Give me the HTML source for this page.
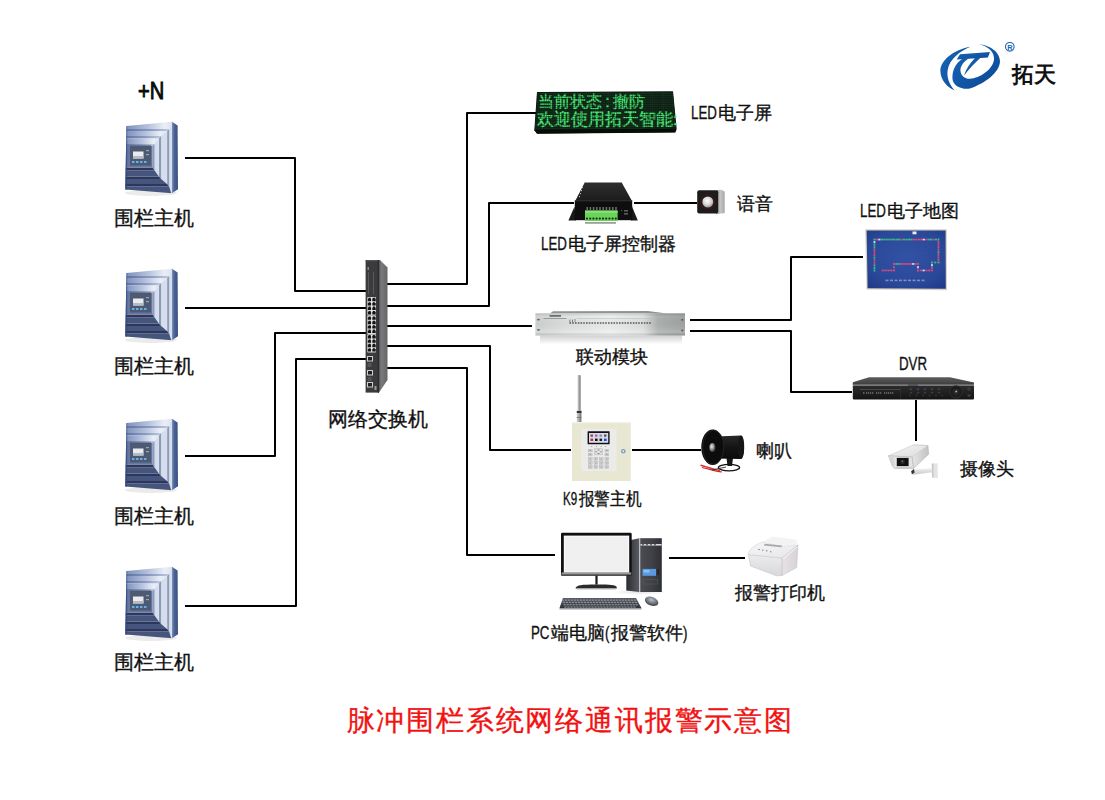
<!DOCTYPE html>
<html><head><meta charset="utf-8">
<style>
html,body{margin:0;padding:0;background:#fff;}
body{width:1105px;height:800px;position:relative;overflow:hidden;font-family:"Liberation Sans",sans-serif;color:#111;}
.t{position:absolute;white-space:nowrap;line-height:1;-webkit-text-stroke:0.35px currentColor;}
.cn{font-size:17.5px;}
.n{display:inline-block;}
.n i{font-style:normal;display:inline-block;transform:scaleX(.76);transform-origin:0 0;}
.big{font-size:20px;}
svg{position:absolute;overflow:visible;}
</style></head><body>

<!-- connection lines -->
<svg style="left:0;top:0" width="1105" height="800" viewBox="0 0 1105 800">
<g fill="none" stroke="#000" stroke-width="2" stroke-linejoin="round">
<polyline points="185,158 295,158 295,291 366,291"/>
<polyline points="185,308 366,308"/>
<polyline points="185,456 275,456 275,333 366,333"/>
<polyline points="185,606 296,606 296,359 366,359"/>
<polyline points="387,284 467,284 467,113 536,113"/>
<polyline points="387,306 489,306 489,203 574,203"/>
<polyline points="387,326 532,326"/>
<polyline points="387,346 490,346 490,450 571,450"/>
<polyline points="387,368 467,368 467,555 555,555"/>
<polyline points="634,203 697,203"/>
<polyline points="690,320 791,320 791,257 863,257"/>
<polyline points="690,331 791,331 791,392 852,392"/>
<polyline points="916,400 916,441"/>
<polyline points="632,450 701,450"/>
<polyline points="669,558 745,558"/>
</g>
</svg>

<svg width="0" height="0" style="position:absolute">
<defs>
<linearGradient id="gT0" x1="0" y1="0" x2="1" y2="0"><stop offset="0" stop-color="#7488b8"/><stop offset="0.5" stop-color="#b3c0dc"/><stop offset="0.85" stop-color="#eaeef6"/><stop offset="1" stop-color="#dce3ef"/></linearGradient>
<linearGradient id="gT1" x1="0" y1="0" x2="1" y2="0"><stop offset="0" stop-color="#586c9c"/><stop offset="0.6" stop-color="#8b9bc3"/><stop offset="1" stop-color="#c0cae0"/></linearGradient>
<linearGradient id="gSide" x1="0" y1="0" x2="1" y2="0"><stop offset="0" stop-color="#8094c0"/><stop offset="0.35" stop-color="#4d6496"/><stop offset="1" stop-color="#3a4f80"/></linearGradient>
<clipPath id="hostFront"><polygon points="2.5,6 48,1.8 48,73.2 1.2,69.4"/></clipPath>
<symbol id="host" viewBox="0 0 56 76" width="56" height="76">
<ellipse cx="27" cy="73" rx="26" ry="3" fill="#000" opacity="0.08"/>
<polygon points="48,1.8 53.6,5.6 54,69.3 48,73.2" fill="url(#gSide)"/>
<g clip-path="url(#hostFront)">
<polygon points="-1,-1 48,-1 45.2,9 -1,9" fill="url(#gT0)"/>
<polygon points="48,-1 48,76 45.2,66.5 45.2,9" fill="#d6deec"/>
<polygon points="-1,76 48,76 45.2,66.5 -1,66.5" fill="#45557d"/>
<polygon points="-1,9 45.2,9 43.1,11 -1,11" fill="url(#gT1)"/>
<polygon points="45.2,9 45.2,66.5 43.1,64 43.1,11" fill="#8a9bc0"/>
<polygon points="-1,66.5 45.2,66.5 43.1,64 -1,64" fill="#2b375c"/>
<polygon points="-1,11 43.1,11 37.1,16 -1,16" fill="url(#gT0)"/>
<polygon points="43.1,11 43.1,64 37.1,59 37.1,16" fill="#d6deec"/>
<polygon points="-1,64 43.1,64 37.1,59 -1,59" fill="#45557d"/>
<polygon points="-1,16 37.1,16 34.9,18.6 -1,18.6" fill="url(#gT1)"/>
<polygon points="37.1,16 37.1,59 34.9,56.5 34.9,18.6" fill="#8a9bc0"/>
<polygon points="-1,59 37.1,59 34.9,56.5 -1,56.5" fill="#2b375c"/>
<polygon points="-1,18.6 34.9,18.6 30.6,24 -1,24" fill="url(#gT0)"/>
<polygon points="34.9,18.6 34.9,56.5 30.6,50.5 30.6,24" fill="#d6deec"/>
<polygon points="-1,56.5 34.9,56.5 30.6,50.5 -1,50.5" fill="#45557d"/>
<polygon points="-1,24 30.6,24 28.4,26 -1,26" fill="url(#gT1)"/>
<polygon points="30.6,24 30.6,50.5 28.4,47.5 28.4,26" fill="#8a9bc0"/>
<polygon points="-1,50.5 30.6,50.5 28.4,47.5 -1,47.5" fill="#2b375c"/>
<rect x="-1" y="26" width="29.4" height="21.5" fill="#6676a0"/>
<rect x="0" y="0" width="3.2" height="76" fill="#34487e" opacity="0.75"/>
</g>
<rect x="6" y="25.5" width="21" height="20" fill="#4d5a72"/>
<rect x="9" y="31.5" width="10.5" height="7" fill="#e9ecef"/>
<rect x="9" y="36" width="10.5" height="2.5" fill="#b5bcc6"/>
<rect x="8" y="41" width="2.5" height="2" fill="#5fb2f0"/><rect x="12" y="41" width="2.5" height="2" fill="#5fb2f0"/><rect x="16" y="41" width="2.5" height="2" fill="#5fb2f0"/><rect x="20" y="41" width="2.5" height="2" fill="#5fb2f0"/>
<rect x="22" y="30" width="3" height="1.2" fill="#9aa3b4"/><rect x="22" y="34" width="3" height="1.2" fill="#9aa3b4"/>
</symbol>
</defs></svg>
<svg style="left:124px;top:120px" width="56" height="76"><use href="#host"/></svg>
<svg style="left:124px;top:267px" width="56" height="76"><use href="#host"/></svg>
<svg style="left:124px;top:417px" width="56" height="76"><use href="#host"/></svg>
<svg style="left:124px;top:565px" width="56" height="76"><use href="#host"/></svg>

<svg style="left:365px;top:255px" width="24" height="140" viewBox="365 255 24 140">
<defs><linearGradient id="swSide" x1="0" y1="0" x2="1" y2="0"><stop offset="0" stop-color="#4a4a4c"/><stop offset="0.3" stop-color="#7a7a7c"/><stop offset="1" stop-color="#666668"/></linearGradient></defs>
<polygon points="378.5,260 380,260 387.5,267.5 387.5,380 379,392.5 378.5,392.5" fill="url(#swSide)"/>
<rect x="365.6" y="260" width="13.4" height="132.6" fill="#3b3b3d"/>
<rect x="365.6" y="260" width="13.4" height="1.2" fill="#555"/>
<rect x="377.6" y="260" width="1.4" height="132.6" fill="#2c2c2e"/>
<g fill="#5a5a5c"><rect x="368" y="272" width="1" height="22"/><rect x="373" y="272" width="1" height="22"/><rect x="367.5" y="267" width="1.5" height="3" fill="#888"/></g>
<g><rect x="367.2" y="297" width="8.8" height="18.4" rx="0.8" fill="#d8d8d8"/><path d="M367.8,298.6 h0.8 v-0.8 h2 v0.8 h0.8 v2.6 h-3.6 z" fill="#141414"/><path d="M372.1,298.6 h0.8 v-0.8 h2 v0.8 h0.8 v2.6 h-3.6 z" fill="#141414"/><path d="M367.8,303.0 h0.8 v-0.8 h2 v0.8 h0.8 v2.6 h-3.6 z" fill="#141414"/><path d="M372.1,303.0 h0.8 v-0.8 h2 v0.8 h0.8 v2.6 h-3.6 z" fill="#141414"/><path d="M367.8,307.4 h0.8 v-0.8 h2 v0.8 h0.8 v2.6 h-3.6 z" fill="#141414"/><path d="M372.1,307.4 h0.8 v-0.8 h2 v0.8 h0.8 v2.6 h-3.6 z" fill="#141414"/><path d="M367.8,311.8 h0.8 v-0.8 h2 v0.8 h0.8 v2.6 h-3.6 z" fill="#141414"/><path d="M372.1,311.8 h0.8 v-0.8 h2 v0.8 h0.8 v2.6 h-3.6 z" fill="#141414"/><rect x="371.3" y="297.5" width="0.9" height="17.4" fill="#f4f4f4"/><rect x="367.2" y="315.6" width="8.8" height="18.4" rx="0.8" fill="#d8d8d8"/><path d="M367.8,317.2 h0.8 v-0.8 h2 v0.8 h0.8 v2.6 h-3.6 z" fill="#141414"/><path d="M372.1,317.2 h0.8 v-0.8 h2 v0.8 h0.8 v2.6 h-3.6 z" fill="#141414"/><path d="M367.8,321.6 h0.8 v-0.8 h2 v0.8 h0.8 v2.6 h-3.6 z" fill="#141414"/><path d="M372.1,321.6 h0.8 v-0.8 h2 v0.8 h0.8 v2.6 h-3.6 z" fill="#141414"/><path d="M367.8,326.0 h0.8 v-0.8 h2 v0.8 h0.8 v2.6 h-3.6 z" fill="#141414"/><path d="M372.1,326.0 h0.8 v-0.8 h2 v0.8 h0.8 v2.6 h-3.6 z" fill="#141414"/><path d="M367.8,330.4 h0.8 v-0.8 h2 v0.8 h0.8 v2.6 h-3.6 z" fill="#141414"/><path d="M372.1,330.4 h0.8 v-0.8 h2 v0.8 h0.8 v2.6 h-3.6 z" fill="#141414"/><rect x="371.3" y="316.1" width="0.9" height="17.4" fill="#f4f4f4"/><rect x="367.2" y="334.2" width="8.8" height="18.4" rx="0.8" fill="#d8d8d8"/><path d="M367.8,335.8 h0.8 v-0.8 h2 v0.8 h0.8 v2.6 h-3.6 z" fill="#141414"/><path d="M372.1,335.8 h0.8 v-0.8 h2 v0.8 h0.8 v2.6 h-3.6 z" fill="#141414"/><path d="M367.8,340.2 h0.8 v-0.8 h2 v0.8 h0.8 v2.6 h-3.6 z" fill="#141414"/><path d="M372.1,340.2 h0.8 v-0.8 h2 v0.8 h0.8 v2.6 h-3.6 z" fill="#141414"/><path d="M367.8,344.6 h0.8 v-0.8 h2 v0.8 h0.8 v2.6 h-3.6 z" fill="#141414"/><path d="M372.1,344.6 h0.8 v-0.8 h2 v0.8 h0.8 v2.6 h-3.6 z" fill="#141414"/><path d="M367.8,349.0 h0.8 v-0.8 h2 v0.8 h0.8 v2.6 h-3.6 z" fill="#141414"/><path d="M372.1,349.0 h0.8 v-0.8 h2 v0.8 h0.8 v2.6 h-3.6 z" fill="#141414"/><rect x="371.3" y="334.7" width="0.9" height="17.4" fill="#f4f4f4"/><rect x="367" y="356" width="6" height="5.5" fill="#cfcfcf"/><rect x="368" y="357" width="4" height="3.5" fill="#222"/><rect x="367" y="370" width="6" height="5.5" fill="#cfcfcf"/><rect x="368" y="371" width="4" height="3.5" fill="#222"/><rect x="367" y="382" width="6" height="5.5" fill="#cfcfcf"/><rect x="368" y="383" width="4" height="3.5" fill="#222"/><rect x="367.5" y="363" width="4" height="4" fill="#555"/><rect x="367.5" y="377" width="4" height="4" fill="#555"/></g>
<rect x="374.5" y="386" width="2" height="4" fill="#999"/>
</svg>
<svg style="left:530px;top:88px" width="150" height="50" viewBox="530 88 150 50">
<defs>
<linearGradient id="ledFace" x1="0" y1="0" x2="0" y2="1"><stop offset="0" stop-color="#0f2416"/><stop offset="1" stop-color="#0b1c11"/></linearGradient>
<pattern id="ledDots" x="0" y="0" width="2.2" height="2.2" patternUnits="userSpaceOnUse"><rect width="2.2" height="2.2" fill="#0d2013"/><circle cx="1.1" cy="1.1" r="0.75" fill="#1d3a26"/></pattern>
</defs>
<polygon points="537,92 673,91.3 676.7,129 675.3,132.5 537,133.8 534.3,130.3" fill="#0a140d"/>
<polygon points="537.4,92.6 672.8,91.9 676,128.8 534.8,129.8" fill="url(#ledDots)"/>
<polygon points="534.8,129.8 676,128.8 675.2,132.3 537,133.4" fill="#060c08"/>
</svg>
<div class="t" style="left:538px;top:94.2px;font-size:16px;color:#48ec78;font-weight:400;">当前状态<span style="display:inline-block;width:11px;text-align:center">:</span>撤防</div>
<div class="t" style="left:537px;top:112px;font-size:16.6px;color:#48ec78;font-weight:400;">欢迎使用拓天智能<span style="display:inline-block;width:4px;text-align:center">:</span></div>
<div style="position:absolute;left:535px;top:92px;width:141px;height:38px;clip-path:polygon(2px 0,138px 0,141px 37px,0 38px);background:repeating-linear-gradient(90deg,rgba(10,25,15,0.3) 0 0.8px,transparent 0.8px 2.2px),repeating-linear-gradient(0deg,rgba(10,25,15,0.3) 0 0.8px,transparent 0.8px 2.2px);"></div>

<svg style="left:565px;top:178px" width="75" height="50" viewBox="565 178 75 50">
<defs><linearGradient id="ctlTop" x1="0" y1="0" x2="0" y2="1"><stop offset="0" stop-color="#2e2e2e"/><stop offset="1" stop-color="#1c1c1c"/></linearGradient></defs>
<polygon points="574.5,206.5 568.4,220.4 576,220.4" fill="#1a1a1a"/>
<polygon points="632,206.5 637.8,220.4 631,220.4" fill="#1a1a1a"/>
<polygon points="584.7,182.6 621.7,182.6 632,201 575.2,201" fill="url(#ctlTop)"/>
<rect x="574.8" y="200.6" width="57.4" height="19.6" fill="#0e0e0e"/>
<rect x="574.8" y="200.4" width="57.4" height="0.9" fill="#3a3a3a"/>
<rect x="585" y="222" width="31" height="1.8" fill="#9aa39a"/>
<rect x="585" y="210.6" width="32.6" height="10.4" fill="#6ad45a"/>
<rect x="585" y="210.6" width="32.6" height="2" fill="#8be47a"/>
<circle cx="587.0" cy="218.6" r="1.1" fill="#0d2a0d"/><circle cx="590.2" cy="218.6" r="1.1" fill="#0d2a0d"/><circle cx="593.4" cy="218.6" r="1.1" fill="#0d2a0d"/><circle cx="596.6" cy="218.6" r="1.1" fill="#0d2a0d"/><circle cx="599.8" cy="218.6" r="1.1" fill="#0d2a0d"/><circle cx="603.0" cy="218.6" r="1.1" fill="#0d2a0d"/><circle cx="606.2" cy="218.6" r="1.1" fill="#0d2a0d"/><circle cx="609.4" cy="218.6" r="1.1" fill="#0d2a0d"/><circle cx="612.6" cy="218.6" r="1.1" fill="#0d2a0d"/><circle cx="615.8" cy="218.6" r="1.1" fill="#0d2a0d"/><rect x="586.5" y="207" width="1.4" height="3" fill="#777"/><rect x="589.7" y="207" width="1.4" height="3" fill="#777"/><rect x="592.9" y="207" width="1.4" height="3" fill="#777"/><rect x="596.1" y="207" width="1.4" height="3" fill="#777"/><rect x="599.3" y="207" width="1.4" height="3" fill="#777"/><rect x="602.5" y="207" width="1.4" height="3" fill="#777"/><rect x="605.7" y="207" width="1.4" height="3" fill="#777"/><rect x="608.9" y="207" width="1.4" height="3" fill="#777"/><rect x="612.1" y="207" width="1.4" height="3" fill="#777"/><rect x="615.3" y="207" width="1.4" height="3" fill="#777"/>
<rect x="621" y="210" width="1" height="1" fill="#3c8a3c"/>
<rect x="624" y="210.5" width="4" height="0.8" fill="#aaa"/><rect x="624" y="213.5" width="4" height="0.8" fill="#aaa"/>
<g fill="#bbb"><rect x="582" y="187" width="1" height="1.2"/><rect x="581" y="190" width="1" height="1.2"/><rect x="580" y="193" width="1" height="1.2"/><rect x="579" y="196" width="1" height="1.2"/></g>
</svg>
<svg style="left:694px;top:186px" width="34" height="32" viewBox="694 186 34 32">
<defs><radialGradient id="spk" cx="0.45" cy="0.4" r="0.6"><stop offset="0" stop-color="#ffffff"/><stop offset="0.6" stop-color="#d6d6d6"/><stop offset="1" stop-color="#9a9a9a"/></radialGradient>
<linearGradient id="spkSide" x1="0" y1="0" x2="1" y2="0"><stop offset="0" stop-color="#8c8c8c"/><stop offset="0.5" stop-color="#c4c4c4"/><stop offset="1" stop-color="#a8a8a8"/></linearGradient></defs>
<polygon points="716,190.2 721,189.8 724.7,191.5 724.7,213 716,214.3" fill="url(#spkSide)"/>
<rect x="697.2" y="190.2" width="21" height="23.4" rx="2" fill="#1c1c1c"/>
<circle cx="707.6" cy="201.8" r="7.6" fill="#4a1616"/>
<circle cx="707.6" cy="201.8" r="6.6" fill="#1c1c1c"/>
<circle cx="707.8" cy="202" r="5.5" fill="url(#spk)"/>
</svg>

<svg style="left:530px;top:305px" width="160" height="45" viewBox="530 305 160 45">
<defs>
<linearGradient id="modH" x1="0" y1="0" x2="1" y2="0">
<stop offset="0" stop-color="#cfd3d2"/><stop offset="0.2" stop-color="#dfe2e1"/><stop offset="0.5" stop-color="#eef0ef"/><stop offset="0.72" stop-color="#dfe2e0"/><stop offset="0.82" stop-color="#aeb2b0"/><stop offset="1" stop-color="#9fa3a1"/></linearGradient>
<linearGradient id="modV" x1="0" y1="0" x2="0" y2="1"><stop offset="0" stop-color="#000" stop-opacity="0.12"/><stop offset="0.15" stop-color="#000" stop-opacity="0"/><stop offset="0.85" stop-color="#fff" stop-opacity="0.15"/><stop offset="1" stop-color="#000" stop-opacity="0.12"/></linearGradient>
<linearGradient id="modSh" x1="0" y1="0" x2="0" y2="1"><stop offset="0" stop-color="#000" stop-opacity="0.18"/><stop offset="1" stop-color="#000" stop-opacity="0"/></linearGradient>
</defs>
<rect x="540" y="335.5" width="142" height="9" fill="url(#modSh)"/>
<polygon points="550,313.5 553,311.2 648,311 667,313.5" fill="#8f9391"/>
<rect x="535.4" y="313.3" width="149.6" height="22.2" fill="url(#modH)"/>
<rect x="535.4" y="313.3" width="149.6" height="22.2" fill="url(#modV)"/>
<ellipse cx="538.5" cy="319.6" rx="1.5" ry="0.9" fill="#666"/><ellipse cx="538.5" cy="329.8" rx="1.5" ry="0.9" fill="#666"/>
<ellipse cx="682.3" cy="319.8" rx="1.1" ry="0.9" fill="#555"/><ellipse cx="682.3" cy="330.4" rx="1.1" ry="0.9" fill="#555"/>
<rect x="549.5" y="315" width="11.5" height="1.8" fill="#6e7270"/>
<rect x="543.5" y="318" width="23" height="0.8" fill="#8a8e8c"/>
<rect x="569.5" y="319.6" width="0.8" height="2.6" fill="#666"/><rect x="572" y="319.6" width="0.8" height="2.6" fill="#666"/><rect x="574.6" y="319" width="0.8" height="3" fill="#777"/>
<rect x="577" y="318.2" width="75" height="0.5" fill="#b5b8b6"/>
<rect x="569.5" y="322.3" width="1.6" height="1.4" fill="#4a4d4c"/><rect x="572.2" y="322.3" width="1.6" height="1.4" fill="#4a4d4c"/><rect x="575.0" y="322.3" width="1.6" height="1.4" fill="#4a4d4c"/><rect x="577.8" y="322.3" width="1.6" height="1.4" fill="#4a4d4c"/><rect x="580.5" y="322.3" width="1.6" height="1.4" fill="#4a4d4c"/><rect x="583.2" y="322.3" width="1.6" height="1.4" fill="#4a4d4c"/><rect x="586.0" y="322.3" width="1.6" height="1.4" fill="#4a4d4c"/><rect x="588.8" y="322.3" width="1.6" height="1.4" fill="#4a4d4c"/><rect x="591.5" y="322.3" width="1.6" height="1.4" fill="#4a4d4c"/><rect x="594.2" y="322.3" width="1.6" height="1.4" fill="#4a4d4c"/><rect x="597.0" y="322.3" width="1.6" height="1.4" fill="#4a4d4c"/><rect x="599.8" y="322.3" width="1.6" height="1.4" fill="#4a4d4c"/><rect x="602.5" y="322.3" width="1.6" height="1.4" fill="#4a4d4c"/><rect x="605.2" y="322.3" width="1.6" height="1.4" fill="#4a4d4c"/><rect x="608.0" y="322.3" width="1.6" height="1.4" fill="#4a4d4c"/><rect x="610.8" y="322.3" width="1.6" height="1.4" fill="#4a4d4c"/><rect x="613.5" y="322.3" width="1.6" height="1.4" fill="#4a4d4c"/><rect x="616.2" y="322.3" width="1.6" height="1.4" fill="#4a4d4c"/><rect x="619.0" y="322.3" width="1.6" height="1.4" fill="#4a4d4c"/><rect x="621.8" y="322.3" width="1.6" height="1.4" fill="#4a4d4c"/><rect x="624.5" y="322.3" width="1.6" height="1.4" fill="#4a4d4c"/><rect x="627.2" y="322.3" width="1.6" height="1.4" fill="#4a4d4c"/><rect x="630.0" y="322.3" width="1.6" height="1.4" fill="#4a4d4c"/><rect x="632.8" y="322.3" width="1.6" height="1.4" fill="#4a4d4c"/><rect x="635.5" y="322.3" width="1.6" height="1.4" fill="#4a4d4c"/><rect x="638.2" y="322.3" width="1.6" height="1.4" fill="#4a4d4c"/><rect x="641.0" y="322.3" width="1.6" height="1.4" fill="#4a4d4c"/><rect x="643.8" y="322.3" width="1.6" height="1.4" fill="#4a4d4c"/><rect x="646.5" y="322.3" width="1.6" height="1.4" fill="#4a4d4c"/><rect x="649.2" y="322.3" width="1.6" height="1.4" fill="#4a4d4c"/>
</svg>

<svg style="left:860px;top:225px" width="92" height="70" viewBox="860 225 92 70">
<defs><radialGradient id="mapBg" cx="0.5" cy="0.45" r="0.7"><stop offset="0" stop-color="#3252a4"/><stop offset="0.7" stop-color="#2a4898"/><stop offset="1" stop-color="#1f3a88"/></radialGradient></defs>
<polygon points="865.2,229.2 946.8,229.2 947,290.2 866.5,289.5" fill="#d9d2c2"/>
<polygon points="866.6,230.4 945.6,230.4 945.8,288.8 867.6,288.2" fill="url(#mapBg)"/>
<rect x="912.5" y="231.5" width="4" height="2.8" fill="#e8eef8"/>
<rect x="873.6" y="269.4" width="1.7" height="2.2" fill="#3ab88a"/><rect x="873.6" y="266.8" width="1.7" height="2.2" fill="#3ab88a"/><rect x="873.6" y="264.2" width="1.7" height="2.2" fill="#3ab88a"/><rect x="873.6" y="261.6" width="1.7" height="2.2" fill="#d84a7c"/><rect x="873.6" y="259.1" width="1.7" height="2.2" fill="#d84a7c"/><rect x="873.6" y="256.5" width="1.7" height="2.2" fill="#3ab88a"/><rect x="873.6" y="253.9" width="1.7" height="2.2" fill="#d84a7c"/><rect x="873.6" y="251.3" width="1.7" height="2.2" fill="#d84a7c"/><rect x="873.6" y="248.7" width="1.7" height="2.2" fill="#d84a7c"/><rect x="873.6" y="246.2" width="1.7" height="2.2" fill="#3ab88a"/><rect x="873.6" y="243.6" width="1.7" height="2.2" fill="#3ab88a"/><rect x="873.6" y="241.0" width="1.7" height="2.2" fill="#dcdcec"/><rect x="873.4" y="238.7" width="2.2" height="1.7" fill="#3ab88a"/><rect x="875.9" y="238.7" width="2.2" height="1.7" fill="#d84a7c"/><rect x="878.3" y="238.7" width="2.2" height="1.7" fill="#dcdcec"/><rect x="880.8" y="238.7" width="2.2" height="1.7" fill="#3ab88a"/><rect x="883.2" y="238.7" width="2.2" height="1.7" fill="#3ab88a"/><rect x="885.7" y="238.7" width="2.2" height="1.7" fill="#3ab88a"/><rect x="888.2" y="238.7" width="2.2" height="1.7" fill="#3ab88a"/><rect x="890.6" y="238.7" width="2.2" height="1.7" fill="#3ab88a"/><rect x="893.1" y="238.7" width="2.2" height="1.7" fill="#3ab88a"/><rect x="895.6" y="238.7" width="2.2" height="1.7" fill="#3ab88a"/><rect x="898.0" y="238.7" width="2.2" height="1.7" fill="#3ab88a"/><rect x="900.5" y="238.7" width="2.2" height="1.7" fill="#d84a7c"/><rect x="902.9" y="238.7" width="2.2" height="1.7" fill="#3ab88a"/><rect x="905.4" y="238.7" width="2.2" height="1.7" fill="#3ab88a"/><rect x="907.9" y="238.7" width="2.2" height="1.7" fill="#3ab88a"/><rect x="910.3" y="238.7" width="2.2" height="1.7" fill="#3ab88a"/><rect x="912.8" y="238.7" width="2.2" height="1.7" fill="#d84a7c"/><rect x="915.2" y="238.7" width="2.2" height="1.7" fill="#d84a7c"/><rect x="917.7" y="238.7" width="2.2" height="1.7" fill="#d84a7c"/><rect x="920.2" y="238.7" width="2.2" height="1.7" fill="#d84a7c"/><rect x="922.6" y="238.7" width="2.2" height="1.7" fill="#dcdcec"/><rect x="925.1" y="238.7" width="2.2" height="1.7" fill="#d84a7c"/><rect x="927.6" y="238.7" width="2.2" height="1.7" fill="#3ab88a"/><rect x="930.0" y="238.7" width="2.2" height="1.7" fill="#3ab88a"/><rect x="932.5" y="238.7" width="2.2" height="1.7" fill="#d84a7c"/><rect x="934.9" y="238.7" width="2.2" height="1.7" fill="#3ab88a"/><rect x="937.6" y="238.4" width="1.7" height="2.2" fill="#3ab88a"/><rect x="937.6" y="241.0" width="1.7" height="2.2" fill="#d84a7c"/><rect x="937.6" y="243.5" width="1.7" height="2.2" fill="#d84a7c"/><rect x="937.6" y="246.1" width="1.7" height="2.2" fill="#d84a7c"/><rect x="937.6" y="248.6" width="1.7" height="2.2" fill="#d84a7c"/><rect x="937.6" y="251.2" width="1.7" height="2.2" fill="#3ab88a"/><rect x="937.6" y="253.7" width="1.7" height="2.2" fill="#d84a7c"/><rect x="937.6" y="256.3" width="1.7" height="2.2" fill="#d84a7c"/><rect x="937.6" y="258.8" width="1.7" height="2.2" fill="#d84a7c"/><rect x="937.4" y="261.6" width="2.2" height="1.7" fill="#3ab88a"/><rect x="934.1" y="261.6" width="2.2" height="1.7" fill="#3ab88a"/><rect x="931.1" y="261.4" width="1.7" height="2.2" fill="#3ab88a"/><rect x="931.1" y="264.1" width="1.7" height="2.2" fill="#dcdcec"/><rect x="931.1" y="266.7" width="1.7" height="2.2" fill="#d84a7c"/><rect x="930.9" y="269.6" width="2.2" height="1.7" fill="#d84a7c"/><rect x="928.1" y="269.6" width="2.2" height="1.7" fill="#d84a7c"/><rect x="925.3" y="269.6" width="2.2" height="1.7" fill="#d84a7c"/><rect x="922.5" y="269.6" width="2.2" height="1.7" fill="#dcdcec"/><rect x="919.7" y="269.6" width="2.2" height="1.7" fill="#d84a7c"/><rect x="917.1" y="269.4" width="1.7" height="2.2" fill="#d84a7c"/><rect x="917.1" y="266.1" width="1.7" height="2.2" fill="#dcdcec"/><rect x="916.9" y="263.1" width="2.2" height="1.7" fill="#d84a7c"/><rect x="914.5" y="263.1" width="2.2" height="1.7" fill="#d84a7c"/><rect x="912.1" y="263.1" width="2.2" height="1.7" fill="#dcdcec"/><rect x="909.7" y="263.1" width="2.2" height="1.7" fill="#d84a7c"/><rect x="907.3" y="263.1" width="2.2" height="1.7" fill="#d84a7c"/><rect x="904.9" y="263.1" width="2.2" height="1.7" fill="#d84a7c"/><rect x="902.5" y="263.1" width="2.2" height="1.7" fill="#d84a7c"/><rect x="900.1" y="263.1" width="2.2" height="1.7" fill="#d84a7c"/><rect x="897.7" y="263.1" width="2.2" height="1.7" fill="#3ab88a"/><rect x="895.3" y="263.1" width="2.2" height="1.7" fill="#3ab88a"/><rect x="893.1" y="262.9" width="1.7" height="2.2" fill="#d84a7c"/><rect x="893.1" y="266.1" width="1.7" height="2.2" fill="#d84a7c"/><rect x="892.9" y="269.6" width="2.2" height="1.7" fill="#d84a7c"/><rect x="890.1" y="269.6" width="2.2" height="1.7" fill="#d84a7c"/><rect x="887.3" y="269.6" width="2.2" height="1.7" fill="#d84a7c"/><rect x="884.5" y="269.6" width="2.2" height="1.7" fill="#d84a7c"/><rect x="881.7" y="269.6" width="2.2" height="1.7" fill="#d84a7c"/>
<g fill="#9aa8d0" opacity="0.75"><rect x="885.5" y="279.6" width="3" height="1.6"/><rect x="890" y="279.6" width="3" height="1.6"/><rect x="894.5" y="279.6" width="3" height="1.6"/><rect x="899" y="279.6" width="3" height="1.6"/><rect x="903.5" y="279.6" width="3" height="1.6"/><rect x="908" y="279.6" width="3" height="1.6"/><rect x="912.5" y="279.6" width="3" height="1.6"/><rect x="917" y="279.6" width="3" height="1.6"/><rect x="921.5" y="279.6" width="3" height="1.6"/></g>
<g fill="#3a5aa8" opacity="0.7"><circle cx="925" cy="246" r="3" fill="none" stroke="#3a5aa8" stroke-width="0.5"/><circle cx="925" cy="256" r="3" fill="none" stroke="#3a5aa8" stroke-width="0.5"/></g>
</svg>

<svg style="left:848px;top:372px" width="132" height="32" viewBox="848 372 132 32">
<defs>
<linearGradient id="dvrTop" x1="0" y1="0" x2="0" y2="1"><stop offset="0" stop-color="#5c5c5c"/><stop offset="0.6" stop-color="#4a4a4a"/><stop offset="1" stop-color="#3a3a3a"/></linearGradient>
<linearGradient id="dvrFront" x1="0" y1="0" x2="0" y2="1"><stop offset="0" stop-color="#2c2c2c"/><stop offset="1" stop-color="#141414"/></linearGradient>
</defs>
<polygon points="869,377.2 950,377.2 974,382.5 974,385.2 852.8,385.2 852.8,382.3" fill="url(#dvrTop)"/>
<rect x="852.8" y="384.3" width="121.2" height="1.4" fill="#7c7c7c"/>
<rect x="852.8" y="385.8" width="121.2" height="13.6" rx="0.8" fill="url(#dvrFront)"/>
<rect x="860" y="389.2" width="40" height="0.5" fill="#6a6a6a"/>
<g fill="#b8b8b8"><rect x="863" y="392.6" width="1.5" height="0.8"/><rect x="866" y="392.6" width="1.2" height="0.8"/><rect x="868" y="392.6" width="1.2" height="0.8"/><rect x="870" y="392.6" width="1.2" height="0.8"/><rect x="872" y="392.6" width="1.2" height="0.8"/><rect x="876" y="392.6" width="1.2" height="0.8"/><rect x="878" y="392.6" width="1.2" height="0.8"/><rect x="880" y="392.6" width="1.2" height="0.8"/><rect x="884" y="392.6" width="1.2" height="0.8"/><rect x="886" y="392.6" width="1.2" height="0.8"/><rect x="888" y="392.6" width="1.2" height="0.8"/><rect x="890" y="392.6" width="1.2" height="0.8"/><rect x="892" y="392.6" width="1.2" height="0.8"/></g><rect x="900.5" y="386" width="0.5" height="13" fill="#3a3a3a"/>
<rect x="908" y="384.6" width="10" height="1" fill="#2a3a4a"/>
<circle cx="911" cy="389.3" r="1.3" fill="#3a3f48"/><rect x="909.8" y="392.6" width="2.4" height="0.6" fill="#666"/><circle cx="918" cy="389.3" r="1.3" fill="#3a3f48"/><rect x="916.8" y="392.6" width="2.4" height="0.6" fill="#666"/><circle cx="925" cy="389.3" r="1.3" fill="#3a3f48"/><rect x="923.8" y="392.6" width="2.4" height="0.6" fill="#666"/><circle cx="932" cy="389.3" r="1.3" fill="#3a3f48"/><rect x="930.8" y="392.6" width="2.4" height="0.6" fill="#666"/><circle cx="939" cy="389.3" r="1.3" fill="#3a3f48"/><rect x="937.8" y="392.6" width="2.4" height="0.6" fill="#666"/><circle cx="910" cy="395.5" r="1" fill="#333"/><circle cx="916.5" cy="395.5" r="1" fill="#333"/><circle cx="923" cy="395.5" r="1" fill="#333"/><circle cx="929.5" cy="395.5" r="1" fill="#333"/><circle cx="936" cy="395.5" r="1" fill="#333"/><circle cx="942" cy="395.5" r="1" fill="#333"/>
<circle cx="956" cy="391.9" r="6.3" fill="#1c1c1c" stroke="#3a3a3a" stroke-width="0.6"/>
<circle cx="956" cy="391.9" r="3.4" fill="#262626"/>
<circle cx="956.2" cy="391.5" r="1" fill="#aaa"/>
<circle cx="969" cy="389" r="1.4" fill="#333" stroke="#555" stroke-width="0.4"/>
<rect x="967.5" y="394.5" width="3" height="2" fill="#444"/>
</svg>
<svg style="left:884px;top:440px" width="58" height="42" viewBox="884 440 58 42">
<defs>
<linearGradient id="camTop" x1="0" y1="0" x2="1" y2="1"><stop offset="0" stop-color="#f4f4f4"/><stop offset="1" stop-color="#dcdcdc"/></linearGradient>
<linearGradient id="camSide" x1="0" y1="0" x2="1" y2="0"><stop offset="0" stop-color="#e6e6e6"/><stop offset="1" stop-color="#c2c2c2"/></linearGradient>
<linearGradient id="arm" x1="0" y1="0" x2="0" y2="1"><stop offset="0" stop-color="#f0f0f0"/><stop offset="1" stop-color="#c8c8c8"/></linearGradient>
</defs>
<polygon points="931.4,463.5 937.6,463.2 937.8,478.3 932,477.6" fill="#e4e4e4"/>
<polygon points="932,463.8 933.3,463.6 933.6,477.8 932.2,477.6" fill="#c4c4c4"/>
<polygon points="911.5,469.8 932,468.3 932.4,472.2 913.5,474.8 911.2,473.8" fill="url(#arm)"/>
<polygon points="913,445 928,445.5 928.7,454.2 913.5,468.5 912,457" fill="url(#camSide)" stroke="#b0b0b0" stroke-width="0.5"/>
<polygon points="888.4,455.8 913,445 928,445.5 912,457" fill="url(#camTop)" stroke="#c4c4c4" stroke-width="0.5"/>
<polygon points="888.4,455.8 912,457 913.5,468.5 894.4,468.5 892,465.4" fill="#e4e4e4" stroke="#a8a8a8" stroke-width="0.5"/>
<polygon points="888.4,455.8 893.5,456.3 894.4,468.5 892,465.4" fill="#d6d6d6"/>
<rect x="896.8" y="457.9" width="11.8" height="8.2" fill="#111"/>
<circle cx="902.6" cy="461.8" r="2.3" fill="#2a2a2a"/>
<circle cx="902.2" cy="461.3" r="0.8" fill="#777"/>
<polygon points="911.2,471.2 914,469 914.6,472.6 912,474.2" fill="#333"/>
<line x1="896" y1="467.4" x2="912" y2="467.4" stroke="#bbb" stroke-width="0.6"/>
</svg>

<svg style="left:565px;top:372px" width="70" height="112" viewBox="565 372 70 112">
<defs><linearGradient id="ant" x1="0" y1="0" x2="1" y2="0"><stop offset="0" stop-color="#d0d0d0"/><stop offset="0.5" stop-color="#a8a8a8"/><stop offset="1" stop-color="#6a6a6a"/></linearGradient></defs>
<rect x="577.6" y="375" width="3" height="36" rx="1" fill="url(#ant)"/>
<rect x="576.8" y="410.5" width="4.6" height="11.5" fill="url(#ant)"/>
<rect x="576.8" y="411" width="4.6" height="2" fill="#333"/>
<rect x="576.8" y="417" width="4.6" height="1" fill="#777"/>
<rect x="572" y="422.4" width="58.8" height="58.6" fill="#e8e8d2"/>
<rect x="572" y="422.4" width="58.8" height="0.8" fill="#f2f2e4"/>
<rect x="581.2" y="429" width="35.4" height="42" fill="#ebebea"/>
<rect x="587.6" y="431.2" width="22" height="13.1" rx="0.5" fill="#111"/>
<rect x="589" y="433" width="19.2" height="9.8" fill="#d5d8ee"/>
<rect x="590.5" y="434.5" width="2.4" height="2.2" fill="#8a4a2a"/><rect x="595" y="434.5" width="2.4" height="2.2" fill="#c05a7a"/><rect x="599.5" y="434.5" width="2.4" height="2.2" fill="#8a8a9a"/><rect x="604" y="434.5" width="2.4" height="2.2" fill="#6a4a2a"/>
<rect x="590.5" y="438.6" width="2.6" height="2.4" fill="#d02a2a"/><rect x="595" y="438.6" width="2.6" height="2.4" fill="#111"/><rect x="599.5" y="438.6" width="2.6" height="2.4" fill="#2a1a0a"/><rect x="604" y="438.6" width="2.6" height="2.4" fill="#1a4ae0"/>
<g fill="#999"><rect x="591" y="446" width="1.2" height="0.8"/><rect x="596" y="446" width="1.2" height="0.8"/><rect x="600.5" y="446" width="1.2" height="0.8"/><rect x="605" y="446" width="1.2" height="0.8"/></g>
<rect x="588.5" y="449.5" width="3.6" height="2.4" fill="#d6d6d6" stroke="#a8a8a8" stroke-width="0.4"/><rect x="589.5" y="450.4" width="1.6" height="0.6" fill="#777"/><rect x="605" y="449.5" width="3.6" height="2.4" fill="#d6d6d6" stroke="#a8a8a8" stroke-width="0.4"/><rect x="606.0" y="450.4" width="1.6" height="0.6" fill="#777"/><rect x="588.5" y="453.5" width="3.6" height="2.4" fill="#d6d6d6" stroke="#a8a8a8" stroke-width="0.4"/><rect x="589.5" y="454.4" width="1.6" height="0.6" fill="#777"/><rect x="605" y="453.5" width="3.6" height="2.4" fill="#d6d6d6" stroke="#a8a8a8" stroke-width="0.4"/><rect x="606.0" y="454.4" width="1.6" height="0.6" fill="#777"/><rect x="588.5" y="457.8" width="3.6" height="2.4" fill="#d6d6d6" stroke="#a8a8a8" stroke-width="0.4"/><rect x="589.5" y="458.7" width="1.6" height="0.6" fill="#777"/><rect x="594" y="457.8" width="3.6" height="2.4" fill="#d6d6d6" stroke="#a8a8a8" stroke-width="0.4"/><rect x="595.0" y="458.7" width="1.6" height="0.6" fill="#777"/><rect x="599.5" y="457.8" width="3.6" height="2.4" fill="#d6d6d6" stroke="#a8a8a8" stroke-width="0.4"/><rect x="600.5" y="458.7" width="1.6" height="0.6" fill="#777"/><rect x="605" y="457.8" width="3.6" height="2.4" fill="#d6d6d6" stroke="#a8a8a8" stroke-width="0.4"/><rect x="606.0" y="458.7" width="1.6" height="0.6" fill="#777"/><rect x="588.5" y="461.8" width="3.6" height="2.4" fill="#d6d6d6" stroke="#a8a8a8" stroke-width="0.4"/><rect x="589.5" y="462.7" width="1.6" height="0.6" fill="#777"/><rect x="594" y="461.8" width="3.6" height="2.4" fill="#d6d6d6" stroke="#a8a8a8" stroke-width="0.4"/><rect x="595.0" y="462.7" width="1.6" height="0.6" fill="#777"/><rect x="599.5" y="461.8" width="3.6" height="2.4" fill="#d6d6d6" stroke="#a8a8a8" stroke-width="0.4"/><rect x="600.5" y="462.7" width="1.6" height="0.6" fill="#777"/><rect x="605" y="461.8" width="3.6" height="2.4" fill="#d6d6d6" stroke="#a8a8a8" stroke-width="0.4"/><rect x="606.0" y="462.7" width="1.6" height="0.6" fill="#777"/><rect x="588.5" y="465.8" width="3.6" height="2.4" fill="#d6d6d6" stroke="#a8a8a8" stroke-width="0.4"/><rect x="589.5" y="466.7" width="1.6" height="0.6" fill="#777"/><rect x="594" y="465.8" width="3.6" height="2.4" fill="#d6d6d6" stroke="#a8a8a8" stroke-width="0.4"/><rect x="595.0" y="466.7" width="1.6" height="0.6" fill="#777"/><rect x="599.5" y="465.8" width="3.6" height="2.4" fill="#d6d6d6" stroke="#a8a8a8" stroke-width="0.4"/><rect x="600.5" y="466.7" width="1.6" height="0.6" fill="#777"/><rect x="605" y="465.8" width="3.6" height="2.4" fill="#d6d6d6" stroke="#a8a8a8" stroke-width="0.4"/><rect x="606.0" y="466.7" width="1.6" height="0.6" fill="#777"/><rect x="594.5" y="448.8" width="8" height="6" fill="#e2e2e2" stroke="#b0b0b0" stroke-width="0.5"/><rect x="597.5" y="449.5" width="2" height="1" fill="#888"/><rect x="597.5" y="453" width="2" height="1" fill="#888"/><rect x="595.3" y="451.3" width="1.5" height="1" fill="#888"/><rect x="600.3" y="451.3" width="1.5" height="1" fill="#888"/>
<circle cx="623.3" cy="451.3" r="2.3" fill="#7a9cc0"/><circle cx="623.3" cy="451.3" r="1" fill="#e8eef4"/>
</svg>
<svg style="left:696px;top:426px" width="52" height="52" viewBox="696 426 52 52">
<defs><linearGradient id="hornBody" x1="0" y1="0" x2="0" y2="1"><stop offset="0" stop-color="#2a2a2a"/><stop offset="0.5" stop-color="#141414"/><stop offset="1" stop-color="#0a0a0a"/></linearGradient>
<radialGradient id="hornCap" cx="0.4" cy="0.4" r="0.6"><stop offset="0" stop-color="#f0f0f0"/><stop offset="0.5" stop-color="#9a9a9a"/><stop offset="1" stop-color="#333"/></radialGradient></defs>
<ellipse cx="729" cy="467.6" rx="10.6" ry="3.3" fill="none" stroke="#111" stroke-width="1.3"/><path d="M726.5,458 L733,458 L732,466 L727.5,466 Z" fill="#161616"/>
<path d="M716,436.5 L741,435.4 A3.2,11.8 0 0 1 741,459 L716,458.5 Z" fill="url(#hornBody)"/>
<ellipse cx="741" cy="447.2" rx="3" ry="11.8" fill="#161616"/>
<ellipse cx="712.7" cy="447.2" rx="11.4" ry="17.8" fill="#0c0c0c"/>
<ellipse cx="713.2" cy="447.2" rx="10.6" ry="17" fill="none" stroke="#333" stroke-width="0.6"/>
<ellipse cx="712.4" cy="447.5" rx="3.1" ry="4.6" fill="url(#hornCap)"/>
<path d="M700.5,465.2 C706,466.5 712,469 720,470.5" stroke="#d83030" stroke-width="1.5" fill="none"/>
<path d="M702,467.5 C708,468.5 714,471 722,472" stroke="#c02828" stroke-width="1.2" fill="none"/>
<path d="M712,470 L726,467" stroke="#333" stroke-width="0.9" fill="none"/>
</svg>

<svg style="left:555px;top:528px" width="112" height="86" viewBox="555 528 112 86">
<defs>
<linearGradient id="twF" x1="0" y1="0" x2="1" y2="0"><stop offset="0" stop-color="#c8cacc"/><stop offset="0.08" stop-color="#4a4c52"/><stop offset="0.6" stop-color="#3e4046"/><stop offset="1" stop-color="#2e3036"/></linearGradient>
<linearGradient id="twS" x1="0" y1="0" x2="1" y2="0"><stop offset="0" stop-color="#2a2c30"/><stop offset="1" stop-color="#5a5c62"/></linearGradient>
<linearGradient id="chin" x1="0" y1="0" x2="0" y2="1"><stop offset="0" stop-color="#c8c8c8"/><stop offset="0.5" stop-color="#7a7a7a"/><stop offset="1" stop-color="#2a2a2a"/></linearGradient>
<linearGradient id="kbd" x1="0" y1="0" x2="0" y2="1"><stop offset="0" stop-color="#5a5e66"/><stop offset="1" stop-color="#2e3036"/></linearGradient>
<radialGradient id="mouse" cx="0.45" cy="0.35" r="0.7"><stop offset="0" stop-color="#b8bcc4"/><stop offset="0.6" stop-color="#6a6e76"/><stop offset="1" stop-color="#2a2c30"/></radialGradient>
<radialGradient id="flr" cx="0.5" cy="0.5" r="0.5"><stop offset="0" stop-color="#000" stop-opacity="0.12"/><stop offset="1" stop-color="#000" stop-opacity="0"/></radialGradient>
</defs>
<ellipse cx="640" cy="592" rx="28" ry="3" fill="url(#flr)"/>
<polygon points="626.3,541 639.2,538.2 639.2,592 626.3,590.4" fill="url(#twS)"/>
<rect x="639.2" y="538.2" width="22.6" height="53.8" fill="url(#twF)"/>
<rect x="640.5" y="544" width="21" height="1.6" fill="#d8d8d8"/>
<rect x="642" y="544.2" width="2" height="1.2" fill="#555"/><rect x="646" y="544.2" width="2" height="1.2" fill="#555"/><rect x="650" y="544.2" width="2" height="1.2" fill="#555"/><rect x="654" y="544.2" width="2" height="1.2" fill="#555"/>
<rect x="642.5" y="568.9" width="13.5" height="6.9" fill="#5a9ae0"/>
<rect x="643.5" y="570" width="6" height="2.5" fill="#8cc0f0"/>
<rect x="657.5" y="569.5" width="1.5" height="5.5" fill="#222"/>
<rect x="643" y="579.5" width="14.5" height="4.5" fill="none" stroke="#555a60" stroke-width="0.6"/>
<rect x="561" y="532.8" width="70.7" height="42.8" rx="1.2" fill="#111"/>
<rect x="563.8" y="535.6" width="65.4" height="37" fill="#fafafa"/>
<rect x="565" y="537" width="63" height="34.5" fill="#f0f0f0"/>
<rect x="561.5" y="572.6" width="69.7" height="3" fill="url(#chin)"/>
<rect x="595.4" y="575.6" width="2.2" height="9" fill="#1a1a1a"/>
<path d="M575.6,588 C577,585.2 581,584.6 596,584.6 C611,584.6 615.5,585.2 616.7,587 L616.7,588.5 L575.6,588.5 Z" fill="#2a2a2a"/>
<rect x="577" y="588.5" width="39" height="1" fill="#bbb"/>
<polygon points="563,597.9 636,597.9 641.4,608 559.5,608" fill="url(#kbd)"/>
<rect x="562.0" y="599.5" width="2.2" height="1.3" fill="#8a8e96"/><rect x="565.0" y="599.5" width="2.2" height="1.3" fill="#8a8e96"/><rect x="568.0" y="599.5" width="2.2" height="1.3" fill="#8a8e96"/><rect x="571.0" y="599.5" width="2.2" height="1.3" fill="#8a8e96"/><rect x="574.0" y="599.5" width="2.2" height="1.3" fill="#8a8e96"/><rect x="577.0" y="599.5" width="2.2" height="1.3" fill="#8a8e96"/><rect x="580.0" y="599.5" width="2.2" height="1.3" fill="#8a8e96"/><rect x="583.0" y="599.5" width="2.2" height="1.3" fill="#8a8e96"/><rect x="586.0" y="599.5" width="2.2" height="1.3" fill="#8a8e96"/><rect x="589.0" y="599.5" width="2.2" height="1.3" fill="#8a8e96"/><rect x="592.0" y="599.5" width="2.2" height="1.3" fill="#8a8e96"/><rect x="595.0" y="599.5" width="2.2" height="1.3" fill="#8a8e96"/><rect x="598.0" y="599.5" width="2.2" height="1.3" fill="#8a8e96"/><rect x="601.0" y="599.5" width="2.2" height="1.3" fill="#8a8e96"/><rect x="604.0" y="599.5" width="2.2" height="1.3" fill="#8a8e96"/><rect x="607.0" y="599.5" width="2.2" height="1.3" fill="#8a8e96"/><rect x="610.0" y="599.5" width="2.2" height="1.3" fill="#8a8e96"/><rect x="613.0" y="599.5" width="2.2" height="1.3" fill="#8a8e96"/><rect x="616.0" y="599.5" width="2.2" height="1.3" fill="#8a8e96"/><rect x="619.0" y="599.5" width="2.2" height="1.3" fill="#8a8e96"/><rect x="622.0" y="599.5" width="2.2" height="1.3" fill="#8a8e96"/><rect x="625.0" y="599.5" width="2.2" height="1.3" fill="#8a8e96"/><rect x="628.0" y="599.5" width="2.2" height="1.3" fill="#8a8e96"/><rect x="631.0" y="599.5" width="2.2" height="1.3" fill="#8a8e96"/><rect x="634.0" y="599.5" width="2.2" height="1.3" fill="#8a8e96"/><rect x="562.8" y="601.8" width="2.2" height="1.3" fill="#8a8e96"/><rect x="565.8" y="601.8" width="2.2" height="1.3" fill="#8a8e96"/><rect x="568.8" y="601.8" width="2.2" height="1.3" fill="#8a8e96"/><rect x="571.8" y="601.8" width="2.2" height="1.3" fill="#8a8e96"/><rect x="574.8" y="601.8" width="2.2" height="1.3" fill="#8a8e96"/><rect x="577.8" y="601.8" width="2.2" height="1.3" fill="#8a8e96"/><rect x="580.8" y="601.8" width="2.2" height="1.3" fill="#8a8e96"/><rect x="583.8" y="601.8" width="2.2" height="1.3" fill="#8a8e96"/><rect x="586.8" y="601.8" width="2.2" height="1.3" fill="#8a8e96"/><rect x="589.8" y="601.8" width="2.2" height="1.3" fill="#8a8e96"/><rect x="592.8" y="601.8" width="2.2" height="1.3" fill="#8a8e96"/><rect x="595.8" y="601.8" width="2.2" height="1.3" fill="#8a8e96"/><rect x="598.8" y="601.8" width="2.2" height="1.3" fill="#8a8e96"/><rect x="601.8" y="601.8" width="2.2" height="1.3" fill="#8a8e96"/><rect x="604.8" y="601.8" width="2.2" height="1.3" fill="#8a8e96"/><rect x="607.8" y="601.8" width="2.2" height="1.3" fill="#8a8e96"/><rect x="610.8" y="601.8" width="2.2" height="1.3" fill="#8a8e96"/><rect x="613.8" y="601.8" width="2.2" height="1.3" fill="#8a8e96"/><rect x="616.8" y="601.8" width="2.2" height="1.3" fill="#8a8e96"/><rect x="619.8" y="601.8" width="2.2" height="1.3" fill="#8a8e96"/><rect x="622.8" y="601.8" width="2.2" height="1.3" fill="#8a8e96"/><rect x="625.8" y="601.8" width="2.2" height="1.3" fill="#8a8e96"/><rect x="628.8" y="601.8" width="2.2" height="1.3" fill="#8a8e96"/><rect x="631.8" y="601.8" width="2.2" height="1.3" fill="#8a8e96"/><rect x="634.8" y="601.8" width="2.2" height="1.3" fill="#8a8e96"/><rect x="563.6" y="604.1" width="2.2" height="1.3" fill="#8a8e96"/><rect x="566.6" y="604.1" width="2.2" height="1.3" fill="#8a8e96"/><rect x="569.6" y="604.1" width="2.2" height="1.3" fill="#8a8e96"/><rect x="572.6" y="604.1" width="2.2" height="1.3" fill="#8a8e96"/><rect x="575.6" y="604.1" width="2.2" height="1.3" fill="#8a8e96"/><rect x="578.6" y="604.1" width="2.2" height="1.3" fill="#8a8e96"/><rect x="581.6" y="604.1" width="2.2" height="1.3" fill="#8a8e96"/><rect x="584.6" y="604.1" width="2.2" height="1.3" fill="#8a8e96"/><rect x="587.6" y="604.1" width="2.2" height="1.3" fill="#8a8e96"/><rect x="590.6" y="604.1" width="2.2" height="1.3" fill="#8a8e96"/><rect x="593.6" y="604.1" width="2.2" height="1.3" fill="#8a8e96"/><rect x="596.6" y="604.1" width="2.2" height="1.3" fill="#8a8e96"/><rect x="599.6" y="604.1" width="2.2" height="1.3" fill="#8a8e96"/><rect x="602.6" y="604.1" width="2.2" height="1.3" fill="#8a8e96"/><rect x="605.6" y="604.1" width="2.2" height="1.3" fill="#8a8e96"/><rect x="608.6" y="604.1" width="2.2" height="1.3" fill="#8a8e96"/><rect x="611.6" y="604.1" width="2.2" height="1.3" fill="#8a8e96"/><rect x="614.6" y="604.1" width="2.2" height="1.3" fill="#8a8e96"/><rect x="617.6" y="604.1" width="2.2" height="1.3" fill="#8a8e96"/><rect x="620.6" y="604.1" width="2.2" height="1.3" fill="#8a8e96"/><rect x="623.6" y="604.1" width="2.2" height="1.3" fill="#8a8e96"/><rect x="626.6" y="604.1" width="2.2" height="1.3" fill="#8a8e96"/><rect x="629.6" y="604.1" width="2.2" height="1.3" fill="#8a8e96"/><rect x="632.6" y="604.1" width="2.2" height="1.3" fill="#8a8e96"/><rect x="635.6" y="604.1" width="2.2" height="1.3" fill="#8a8e96"/><rect x="564.4" y="606.4" width="2.2" height="1.3" fill="#8a8e96"/><rect x="567.4" y="606.4" width="2.2" height="1.3" fill="#8a8e96"/><rect x="570.4" y="606.4" width="2.2" height="1.3" fill="#8a8e96"/><rect x="573.4" y="606.4" width="2.2" height="1.3" fill="#8a8e96"/><rect x="576.4" y="606.4" width="2.2" height="1.3" fill="#8a8e96"/><rect x="579.4" y="606.4" width="2.2" height="1.3" fill="#8a8e96"/><rect x="582.4" y="606.4" width="2.2" height="1.3" fill="#8a8e96"/><rect x="585.4" y="606.4" width="2.2" height="1.3" fill="#8a8e96"/><rect x="588.4" y="606.4" width="2.2" height="1.3" fill="#8a8e96"/><rect x="591.4" y="606.4" width="2.2" height="1.3" fill="#8a8e96"/><rect x="594.4" y="606.4" width="2.2" height="1.3" fill="#8a8e96"/><rect x="597.4" y="606.4" width="2.2" height="1.3" fill="#8a8e96"/><rect x="600.4" y="606.4" width="2.2" height="1.3" fill="#8a8e96"/><rect x="603.4" y="606.4" width="2.2" height="1.3" fill="#8a8e96"/><rect x="606.4" y="606.4" width="2.2" height="1.3" fill="#8a8e96"/><rect x="609.4" y="606.4" width="2.2" height="1.3" fill="#8a8e96"/><rect x="612.4" y="606.4" width="2.2" height="1.3" fill="#8a8e96"/><rect x="615.4" y="606.4" width="2.2" height="1.3" fill="#8a8e96"/><rect x="618.4" y="606.4" width="2.2" height="1.3" fill="#8a8e96"/><rect x="621.4" y="606.4" width="2.2" height="1.3" fill="#8a8e96"/><rect x="624.4" y="606.4" width="2.2" height="1.3" fill="#8a8e96"/><rect x="627.4" y="606.4" width="2.2" height="1.3" fill="#8a8e96"/><rect x="630.4" y="606.4" width="2.2" height="1.3" fill="#8a8e96"/><rect x="633.4" y="606.4" width="2.2" height="1.3" fill="#8a8e96"/>
<rect x="559.5" y="608" width="82" height="1.5" fill="#9a9ea4"/>
<ellipse cx="651.6" cy="601.3" rx="7" ry="4.3" transform="rotate(20 651.6 601.3)" fill="url(#mouse)"/>
</svg>
<svg style="left:744px;top:532px" width="60" height="48" viewBox="744 532 60 48">
<defs>
<linearGradient id="prTop" x1="0" y1="0" x2="1" y2="1"><stop offset="0" stop-color="#f6f6f8"/><stop offset="1" stop-color="#e6e6ea"/></linearGradient>
<linearGradient id="prFront" x1="0" y1="0" x2="0" y2="1"><stop offset="0" stop-color="#ececee"/><stop offset="1" stop-color="#d8d8dc"/></linearGradient>
<linearGradient id="prSide" x1="0" y1="0" x2="1" y2="0"><stop offset="0" stop-color="#e8e2e6"/><stop offset="1" stop-color="#d6d2d6"/></linearGradient>
</defs>
<polygon points="782,558 798,544.8 796.7,567.5 782,575.5" fill="url(#prSide)" stroke="#c0bcc0" stroke-width="0.5"/>
<polygon points="748.4,554.6 782,558 782,575.5 776.4,575.8 750.5,566" fill="url(#prFront)" stroke="#bdbdc2" stroke-width="0.5"/>
<path d="M748.4,554.6 C749,549 754,545 763,542 L782,546 L798,544.8 L782,558 Z" fill="url(#prTop)" stroke="#c8c8cc" stroke-width="0.5"/>
<polygon points="763,542 772.2,536.4 796,539.5 798.1,544.8 782,546" fill="#f3f3f5"/>
<polygon points="764.5,543.8 782,545.4 781.5,547.2 764,545.5" fill="#a8a8ac"/>
<g fill="#9a9aa0"><rect x="758" y="549" width="2" height="1"/><rect x="762" y="549.5" width="1.4" height="1.4"/><rect x="766" y="550" width="1.4" height="1.4"/><rect x="770" y="551" width="1.4" height="1.4"/></g>
<path d="M783,559 L797,547" stroke="#fff" stroke-width="0.8"/>
</svg>

<svg style="left:935px;top:38px" width="85" height="58" viewBox="935 38 85 58">
<defs><linearGradient id="lg" x1="0" y1="0" x2="1" y2="1"><stop offset="0" stop-color="#1a66b4"/><stop offset="0.5" stop-color="#1258a8"/><stop offset="1" stop-color="#0c4590"/></linearGradient></defs>
<g fill="url(#lg)">
<path d="M970.5,46.7 C955,49 940,60 940.4,71 C940.5,80 947,87 954.6,90.5 C949,84 946.5,77 947.7,70 C949.5,59 960,51 970.5,46.7 Z"/>
<path d="M978.5,44.2 C990,45 1000,52 1000,61.5 C999.5,72 986,83 970,88.5 C962,90 953,86 952.5,79 C952,71 955,64 962,59 L969,58.3 C963,62 960,67 960.5,71 C961,76 965,79 970,78.8 C980,78 992,70 994,60 C995,52 988,46 978.5,44.2 Z"/>
<path d="M956.7,59.4 L960,54.3 L990,52 L987.9,57.6 Z"/>
<path d="M975,58 L980.5,57.8 C975,63 969,69 964,75.5 C966,69 970,63 975,58 Z"/>
</g>
<circle cx="1009.8" cy="46.8" r="4.3" fill="none" stroke="#1a62b0" stroke-width="1.1"/>
<text x="1009.9" y="49.6" font-size="7.5" font-weight="bold" text-anchor="middle" fill="#1a62b0" font-family="Liberation Sans">R</text>
</svg>
<div class="t" style="left:1012px;top:64.5px;font-size:21.5px;font-weight:700;color:#111;-webkit-text-stroke:0;">拓天</div>

<!-- labels -->
<div class="t" id="L_N" style="left:137.5px;top:78.6px;font-size:24.5px;-webkit-text-stroke:0.9px #000;"><span class="n" style="width:27px"><i style="transform:scaleX(.82)">+N</i></span></div>
<div class="t big" id="L_h1" style="left:114px;top:208px;">围栏主机</div>
<div class="t big" id="L_h2" style="left:114px;top:356px;">围栏主机</div>
<div class="t big" id="L_h3" style="left:114px;top:506px;">围栏主机</div>
<div class="t big" id="L_h4" style="left:114px;top:652px;">围栏主机</div>
<div class="t big" id="L_sw" style="left:328px;top:408.5px;">网络交换机</div>
<div class="t cn" id="L_led" style="left:691px;top:105px;"><span class="n" style="width:27px"><i>LED</i></span>电子屏</div>
<div class="t cn" id="L_yy" style="left:737px;top:196px;">语音</div>
<div class="t cn" id="L_ctl" style="left:541px;top:235.5px;"><span class="n" style="width:27px"><i>LED</i></span>电子屏控制器</div>
<div class="t cn" id="L_map" style="left:860px;top:202.5px;"><span class="n" style="width:27px"><i>LED</i></span>电子地图</div>
<div class="t cn" id="L_lian" style="left:576px;top:348.5px;">联动模块</div>
<div class="t cn" id="L_dvr" style="left:898.5px;top:355.5px;"><span class="n" style="width:27px"><i>DVR</i></span></div>
<div class="t cn" id="L_laba" style="left:755.5px;top:442.5px;">喇叭</div>
<div class="t cn" id="L_cam" style="left:960px;top:460.5px;">摄像头</div>
<div class="t cn" id="L_k9" style="left:563px;top:490.5px;transform:scaleX(.87);transform-origin:0 0"><span class="n" style="width:18px"><i>K9</i></span>报警主机</div>
<div class="t cn" id="L_prn" style="left:735px;top:585px;">报警打印机</div>
<div class="t cn" id="L_pc" style="left:531px;top:625px;"><span class="n" style="width:20px"><i>PC</i></span>端电脑<span class="n" style="width:6px"><i>(</i></span>报警软件<span class="n" style="width:6px"><i>)</i></span></div>
<div class="t" id="L_title" style="left:346.5px;top:707px;font-size:28px;letter-spacing:1.83px;color:#f21212;">脉冲围栏系统网络通讯报警示意图</div>

</body></html>
